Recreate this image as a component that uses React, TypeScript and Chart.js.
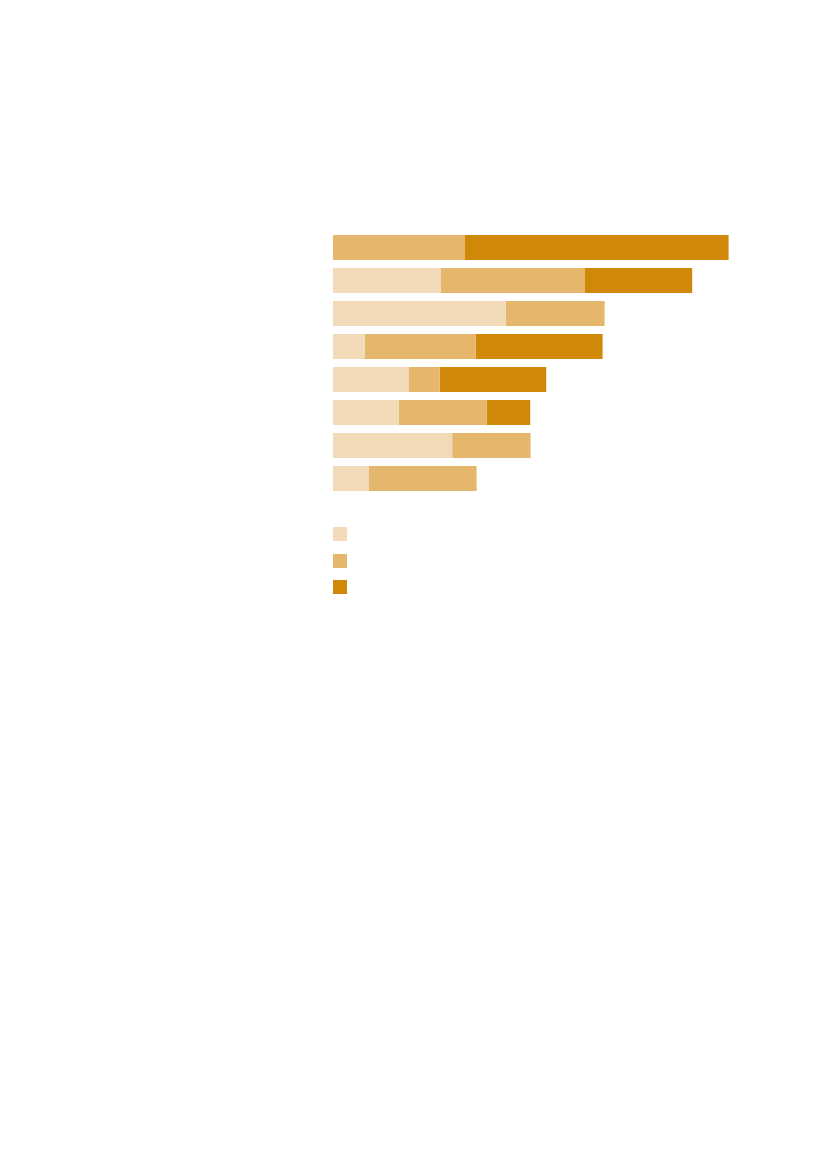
import React, { useEffect, useRef } from "react";
import { Chart, registerables } from "chart.js";

Chart.register(...registerables);

const categories = ["1", "2", "3", "4", "5", "6", "7", "8"];
const seriesLow = [0, 27, 43.2, 7.9, 19, 16.4, 29.8, 9];
const seriesMid = [33, 36, 24.7, 27.8, 7.7, 22, 19.6, 26.9];
const seriesHigh = [65.9, 26.8, 0, 31.7, 26.6, 10.9, 0, 0];
const seriesNames = ["", "", ""];
const colors = ["#F2DAB8", "#E4B76C", "#D08808"];

export default function App() {
  const ref = useRef<HTMLCanvasElement | null>(null);

  useEffect(() => {
    if (!ref.current) return;
    const chart = new Chart(ref.current, {
      type: "bar",
      data: {
        labels: categories,
        datasets: [seriesLow, seriesMid, seriesHigh].map((d, i) => ({
          label: seriesNames[i],
          data: d,
          backgroundColor: colors[i],
          borderWidth: 0,
          barPercentage: 25 / 33,
          categoryPercentage: 1,
        })),
      },
      options: {
        indexAxis: "y",
        animation: false,
        responsive: true,
        maintainAspectRatio: false,
        layout: { padding: 0 },
        plugins: { legend: { display: false }, tooltip: { enabled: false } },
        scales: {
          x: { stacked: true, min: 0, max: 100, display: false },
          y: { stacked: true, display: false, offset: true },
        },
      },
    });
    return () => chart.destroy();
  }, []);

  return (
    <div style={{ position: "absolute", left: 0, top: 0, width: 827, height: 1169, background: "#fff" }}>
      <div style={{ position: "absolute", left: 333, top: 231, width: 400, height: 264 }}>
        <canvas ref={ref} />
      </div>
      {colors.map((c, i) => (
        <div
          key={i}
          title={seriesNames[i]}
          style={{
            position: "absolute",
            left: 333,
            top: 527 + i * 26.6,
            width: 14,
            height: 14,
            background: c,
          }}
        />
      ))}
    </div>
  );
}
